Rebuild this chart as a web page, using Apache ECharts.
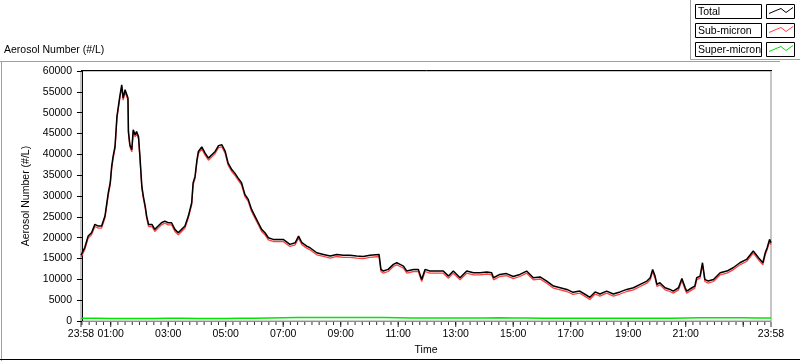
<!DOCTYPE html>
<html>
<head>
<meta charset="utf-8">
<script src="https://cdn.jsdelivr.net/npm/echarts@6/dist/echarts.min.js"></script>
<style>
html, body { margin: 0; padding: 0; background: #fff; }
#chart { width: 800px; height: 361px; }
</style>
</head>
<body>
<div id="chart"></div>
<script>
// minutes after midnight (-2 = 23:58 of the previous day)
var times = [-2,2,6,13,20,27,34,41,48,52,
    55,59,62,65,69,73,76,79,83,86,
    90,93,96,97,100,104,107,111,114,118,
    121,125,128,132,135,139,146,152,159,166,
    173,180,187,194,201,208,215,222,229,232,
    236,240,243,250,257,264,271,278,285,292,
    299,305,313,319,326,333,340,347,354,361,
    368,375,382,389,399,406,420,434,445,452,
    459,469,476,490,504,518,532,545,559,573,
    587,601,620,624,629,639,650,657,664,671,
    678,692,702,709,716,726,740,754,765,775,
    789,803,817,831,845,855,859,872,886,900,
    914,928,942,956,970,984,998,1012,1025,1039,
    1053,1060,1071,1081,1095,1109,1123,1137,1151,1165,
    1179,1186,1191,1196,1200,1206,1217,1227,1234,1245,
    1252,1259,1262,1273,1279,1283,1290,1295,1300,1307,
    1318,1332,1346,1359,1373,1387,1401,1412,1421,1426,
    1430,1435,1438];

var total = [15800,15500,17700,20400,21200,23200,22800,22800,25200,28400,
    30800,33200,37100,39500,41900,49100,51500,53900,56700,53500,
    55500,55900,53500,45500,42300,41100,45900,44700,45500,44300,
    39500,32300,30000,27600,25200,23200,23200,22000,22800,23600,
    24000,23600,23600,22000,21200,22000,22800,25200,28400,33200,
    34700,38700,40700,41800,40300,39100,39900,40700,42100,42300,
    40700,37900,36300,35500,34300,33200,30400,29200,26800,25200,
    23600,22000,21200,20000,19600,19600,19600,18400,18800,20400,
    18800,18000,17600,16400,16000,15600,16000,15800,15800,15600,
    15500,15800,16000,12400,12000,12400,13600,14000,13600,13200,
    12000,12400,12400,10000,12400,12000,12000,12000,10800,12000,
    10400,12000,11600,11600,11800,11600,10400,11200,11400,10700,
    11200,12000,10400,10600,9600,8400,8000,7600,6900,7200,
    6200,5700,7000,6500,7200,6500,7000,7600,8000,8800,
    9600,10400,12400,10800,8800,9200,8000,7600,7200,8000,
    10200,8000,7200,8000,8400,10400,10800,14000,10000,9600,
    10000,11600,12000,12800,14000,14800,16800,15200,14000,16400,
    17600,19600,18800];

var subMicron = [15300,15000,17200,19900,20700,22700,22300,22300,24700,27900,
    30300,32700,36600,39000,41400,48600,51000,53400,56200,53000,
    55000,55400,53000,45000,41800,40600,45400,44200,45000,43800,
    39000,31800,29500,27100,24700,22700,22700,21500,22300,23100,
    23500,23100,23100,21500,20700,21500,22300,24700,27900,32700,
    34200,38200,40200,41300,39800,38600,39400,40200,41600,41800,
    40200,37400,35800,35000,33800,32700,29900,28700,26300,24700,
    23100,21500,20700,19500,19100,19100,19100,17900,18300,19900,
    18300,17500,17100,15900,15500,15100,15500,15300,15300,15100,
    15000,15300,15500,11900,11500,11900,13100,13500,13100,12700,
    11500,11900,11900,9500,11900,11500,11500,11500,10300,11500,
    9900,11500,11100,11100,11300,11100,9900,10700,10900,10200,
    10700,11500,9900,10100,9100,7900,7500,7100,6400,6700,
    5700,5200,6500,6000,6700,6000,6500,7100,7500,8300,
    9100,9900,11900,10300,8300,8700,7500,7100,6700,7500,
    9700,7500,6700,7500,7900,9900,10300,13500,9500,9100,
    9500,11100,11500,12300,13500,14300,16300,14700,13500,15900,
    17100,19100,18300];

var superTimes = [-2,30,60,90,120,150,180,210,240,270,300,330,360,390,420,450,480,510,540,570,
    600,630,660,690,720,750,780,810,840,870,900,930,960,990,1020,1050,1080,1110,1140,1170,
    1200,1230,1260,1290,1320,1350,1380,1410,1438];
var superMicron = [700,700,650,600,650,600,700,700,650,600,650,700,700,750,800,850,850,850,850,850,
    850,850,800,750,750,750,750,750,750,800,750,750,700,700,700,700,700,700,700,700,
    700,700,750,800,800,800,800,750,750];

var labelTimes = [-2,60,180,300,420,540,660,780,900,1020,1140,1260,1438];
var majorTicks = [-2,60,180,300,420,540,660,780,900,1020,1140,1260,1380,1438];

var seriesNames = ['Total', 'Sub-micron', 'Super-micron'];
var seriesColors = ['#000000', '#ff4040', '#00e600'];

function pairs(xs, ys){
    var out = [];
    for (var i = 0; i < xs.length; i++) {
        out.push([xs[i], ys[i]]);
    }
    return out;
}

function hhmm(v){
    var m = ((Math.round(v) % 1440) + 1440) % 1440;
    var h = Math.floor(m / 60);
    var mm = m % 60;
    return (h < 10 ? '0' : '') + h + ':' + (mm < 10 ? '0' : '') + mm;
}

// tick marks every 15 min, drawn as little bars under the time axis
var minorTicks = [];
for (var t = 0; t <= 1425; t += 15) {
    minorTicks.push([t, 0]);
}
var majorTickPts = [];
for (var j = 0; j < majorTicks.length; j++) {
    majorTickPts.push([majorTicks[j], 0]);
}

var fontName = '"Liberation Sans", Arial, sans-serif';
var fs = 10.5;

// legend drawn like the instrument panel: text box + sample box
var legendItems = [];
legendItems.push({type: 'line', shape: {x1: 690.5, y1: 0, x2: 690.5, y2: 59.5}, style: {stroke: '#a0a0a0', lineWidth: 1}});
legendItems.push({type: 'line', shape: {x1: 690.5, y1: 59.5, x2: 800, y2: 59.5}, style: {stroke: '#a0a0a0', lineWidth: 1}});
for (var k = 0; k < 3; k++) {
    var ty = 4.5 + k * 19;
    legendItems.push({type: 'rect', shape: {x: 695.5, y: ty, width: 66, height: 14},
        style: {fill: '#fff', stroke: '#000', lineWidth: 1}});
    legendItems.push({type: 'text', x: 698, y: ty + 7.5,
        style: {text: seriesNames[k], fill: '#000', font: fs + 'px ' + fontName, textVerticalAlign: 'middle'}});
    legendItems.push({type: 'rect', shape: {x: 766.5, y: ty, width: 28, height: 14},
        style: {fill: '#fff', stroke: '#000', lineWidth: 1}});
    legendItems.push({type: 'polyline',
        shape: {points: [[769, ty + 9], [776, ty + 6], [781, ty + 4], [786, ty + 8], [793, ty + 3]]},
        style: {stroke: seriesColors[k], lineWidth: 1, fill: null}});
}

var option = {
    animation: false,
    backgroundColor: '#fff',
    grid: {
        left: 81,
        right: 29,
        top: 71,
        bottom: 39,
        show: true,
        borderColor: '#8c8c8c',
        borderWidth: 1
    },
    xAxis: {
        type: 'value',
        min: -2,
        max: 1438,
        name: 'Time',
        nameLocation: 'middle',
        nameGap: 22,
        nameTextStyle: {color: '#000', fontSize: fs, fontFamily: fontName},
        axisLine: {show: true, onZero: false, lineStyle: {color: '#8c8c8c', width: 1}},
        axisTick: {show: false},
        axisLabel: {show: true, customValues: labelTimes, margin: 8, color: '#000',
            fontSize: fs, fontFamily: fontName, formatter: hhmm},
        splitLine: {show: false}
    },
    yAxis: {
        type: 'value',
        min: 0,
        max: 60000,
        interval: 5000,
        name: 'Aerosol Number (#/L)',
        nameLocation: 'middle',
        nameGap: 34,
        nameTextStyle: {color: '#000', fontSize: fs, fontFamily: fontName},
        axisLine: {show: true, lineStyle: {color: '#000', width: 1}},
        axisTick: {show: true, inside: false, length: 5, lineStyle: {color: '#000'}},
        axisLabel: {color: '#000', fontSize: fs, fontFamily: fontName, margin: 9,
            formatter: function (v) { return String(v); }},
        splitLine: {show: false}
    },
    series: [
        {
            name: 'Super-micron',
            type: 'line',
            data: pairs(superTimes, superMicron),
            showSymbol: false,
            lineStyle: {color: seriesColors[2], width: 1.5},
            z: 2
        },
        {
            name: 'Sub-micron',
            type: 'line',
            data: pairs(times, subMicron),
            showSymbol: false,
            lineStyle: {color: seriesColors[1], width: 1.3},
            z: 3
        },
        {
            name: 'Total',
            type: 'line',
            data: pairs(times, total),
            showSymbol: false,
            lineStyle: {color: seriesColors[0], width: 1.5},
            z: 4
        },
        {
            name: 'minorTick',
            type: 'scatter',
            data: minorTicks,
            symbol: 'rect',
            symbolSize: [1, 3],
            symbolOffset: [0, 2.5],
            itemStyle: {color: '#000'},
            clip: false,
            silent: true,
            z: 5
        },
        {
            name: 'majorTick',
            type: 'scatter',
            data: majorTickPts,
            symbol: 'rect',
            symbolSize: [1, 5],
            symbolOffset: [0, 3.5],
            itemStyle: {color: '#000'},
            clip: false,
            silent: true,
            z: 5
        }
    ],
    graphic: [
        {type: 'line', shape: {x1: 0, y1: 61.5, x2: 780, y2: 61.5}, style: {stroke: '#a0a0a0', lineWidth: 1}},
        {type: 'line', shape: {x1: 1.5, y1: 61.5, x2: 1.5, y2: 361}, style: {stroke: '#a0a0a0', lineWidth: 1}},
        {type: 'line', shape: {x1: 0, y1: 359.5, x2: 800, y2: 359.5}, style: {stroke: '#000', lineWidth: 1}},
        {type: 'line', shape: {x1: 81, y1: 70.5, x2: 772, y2: 70.5}, style: {stroke: '#000', lineWidth: 1}},
        {type: 'text', x: 4, y: 50, style: {text: 'Aerosol Number (#/L)', fill: '#000',
            font: fs + 'px ' + fontName, textVerticalAlign: 'middle'}}
    ].concat(legendItems)
};

var myChart = echarts.init(document.getElementById('chart'));
myChart.setOption(option);
</script>
</body>
</html>
